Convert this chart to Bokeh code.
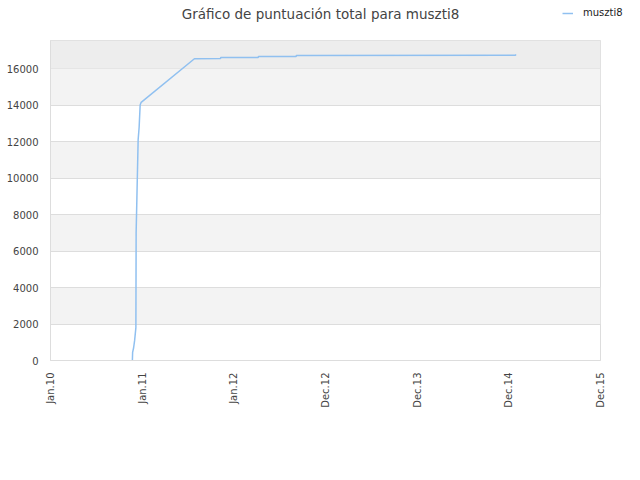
import pandas as pd
from math import pi
from bokeh.plotting import figure
from bokeh.layouts import column, row
from bokeh.models import FixedTicker, BoxAnnotation, Range1d, Legend, LegendItem, Label
from bokeh.embed import file_html
from bokeh.resources import INLINE

# ---- data ----
series_name = "muszti8"
dates = ["2010-11-23", "2010-11-24", "2010-11-28", "2010-12-02", "2010-12-07",
         "2010-12-08", "2010-12-11", "2010-12-16", "2010-12-20", "2010-12-24",
         "2010-12-28", "2011-07-28", "2011-11-09", "2011-11-10", "2012-04-07",
         "2012-04-08", "2012-09-05", "2012-09-06", "2015-01-26", "2015-01-28"]
scores = [0, 450, 700, 1100, 1800,
          7000, 8900, 12100, 12800, 14000,
          14150, 16540, 16555, 16605, 16610,
          16665, 16665, 16720, 16725, 16780]
tick_dates = ["2010-01-01", "2011-01-01", "2012-01-01", "2012-12-31",
              "2013-12-31", "2014-12-31", "2015-12-31"]
tick_labels = ["Jan.10", "Jan.11", "Jan.12", "Dec.12", "Dec.13", "Dec.14", "Dec.15"]
y_ticks = [0, 2000, 4000, 6000, 8000, 10000, 12000, 14000, 16000]
title_text = "Gráfico de puntuación total para muszti8"

def ms(d):
    return pd.Timestamp(d).value / 1e6

xs = [ms(d) for d in dates]
tick_ms = [ms(d) for d in tick_dates]

FONT = "DejaVu Sans"
LINE_COLOR = "#90c0f0"
LEFT = 50

# ---- header (title + legend) ----
h = figure(width=640, height=40, output_backend="svg", toolbar_location=None,
           x_axis_location=None, y_axis_location=None, min_border=0,
           x_range=Range1d(0, 1), y_range=Range1d(0, 1))
h.outline_line_color = None
h.grid.visible = False
h.add_layout(Label(x=320, y=27, x_units="screen", y_units="screen", text=title_text,
                   text_align="center", text_baseline="middle", text_font=FONT,
                   text_font_size="13.5px", text_color="#444444"))
dummy = h.line(x=[float("nan")], y=[float("nan")], line_color=LINE_COLOR, line_width=1.5)
legend = Legend(items=[LegendItem(label=series_name, renderers=[dummy])],
                location=(562, 22), orientation="horizontal",
                border_line_color=None, background_fill_alpha=0,
                glyph_width=11, glyph_height=10, label_standoff=10, padding=0, margin=0,
                label_text_font=FONT, label_text_font_size="10px",
                label_height=10, label_text_color="#222222")
h.add_layout(legend, "center")

# ---- main chart ----
p = figure(width=640, height=440, x_axis_type="datetime", output_backend="svg",
           toolbar_location=None, min_border_left=LEFT, min_border_right=40,
           min_border_top=0, min_border_bottom=120)
p.x_range = Range1d(tick_ms[0], tick_ms[-1])
p.y_range = Range1d(0, 17540)

p.background_fill_color = "white"
p.border_fill_color = "white"
p.outline_line_color = "#dddddd"

p.ygrid.ticker = FixedTicker(ticks=y_ticks)
p.ygrid.grid_line_color = "#dddddd"
p.ygrid.band_fill_color = "#f3f3f3"
p.ygrid.band_fill_alpha = 1.0
p.xgrid.grid_line_color = None
p.add_layout(BoxAnnotation(bottom=y_ticks[-1], fill_color="#ededed", fill_alpha=1.0,
                           line_color=None, level="underlay"))

p.line(xs, scores, line_color=LINE_COLOR, line_width=1.5)

p.xaxis.ticker = FixedTicker(ticks=tick_ms)
p.xaxis.major_label_overrides = {t_: l for t_, l in zip(tick_ms, tick_labels)}
p.xaxis.major_label_orientation = pi / 2
p.yaxis.ticker = FixedTicker(ticks=y_ticks)
for ax in (p.xaxis[0], p.yaxis[0]):
    ax.major_label_text_font = FONT
    ax.major_label_text_font_size = "10px"
    ax.major_label_text_color = "#444444"
    ax.major_tick_line_color = None
    ax.minor_tick_line_color = None
    ax.major_tick_out = 0
    ax.major_tick_in = 0
    ax.axis_line_color = "#dddddd"
p.yaxis.major_label_standoff = 12
p.xaxis.major_label_standoff = 12

layout = column(row(h), p, spacing=0)
open("out.html", "w").write(file_html(layout, INLINE))
